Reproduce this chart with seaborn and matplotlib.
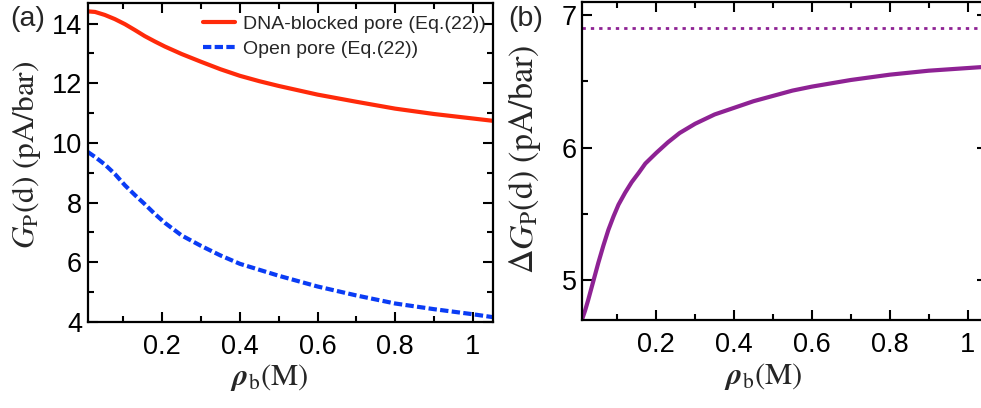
import numpy as np
import pandas as pd
import matplotlib
matplotlib.use("Agg")
import matplotlib.pyplot as plt
import seaborn as sns
from matplotlib.ticker import MultipleLocator

# ---- data ----
rho_a = [0.008, 0.027, 0.052, 0.078, 0.104, 0.13, 0.155, 0.181, 0.207, 0.25,
         0.3, 0.35, 0.4, 0.45, 0.5, 0.6, 0.7, 0.8, 0.9, 1.0, 1.053]
g_blocked = [14.41, 14.39, 14.29, 14.15, 13.98, 13.78, 13.58, 13.40, 13.23, 12.98,
             12.72, 12.47, 12.25, 12.07, 11.91, 11.62, 11.38, 11.15, 10.97, 10.82, 10.74]
g_open = [9.70, 9.53, 9.28, 8.96, 8.58, 8.25, 7.95, 7.62, 7.32, 6.90,
          6.55, 6.23, 5.95, 5.75, 5.55, 5.19, 4.89, 4.62, 4.43, 4.26, 4.16]

rho_b = [0.010, 0.017, 0.025, 0.038, 0.051, 0.064, 0.077, 0.090, 0.103, 0.12,
         0.137, 0.155, 0.172, 0.2, 0.23, 0.26, 0.3, 0.35, 0.4, 0.45, 0.5, 0.55,
         0.6, 0.7, 0.8, 0.9, 1.0, 1.05]
delta_g = [4.71, 4.77, 4.85, 4.99, 5.13, 5.26, 5.38, 5.48, 5.57, 5.66,
           5.74, 5.81, 5.88, 5.96, 6.04, 6.11, 6.18, 6.25, 6.30, 6.35, 6.39, 6.43,
           6.46, 6.51, 6.55, 6.58, 6.60, 6.61]
delta_g_limit = 6.905

labels = ["DNA-blocked pore (Eq.(22))", "Open pore (Eq.(22))"]
xticks = [0.2, 0.4, 0.6, 0.8, 1.0]
xticklabels = ["0.2", "0.4", "0.6", "0.8", "1"]

sns.set_theme(style="ticks")
plt.rcParams["font.family"] = ["Liberation Sans", "DejaVu Sans"]
plt.rcParams["mathtext.fontset"] = "stix"
plt.rcParams["axes.linewidth"] = 1.6

RED = "#FF2A0A"
BLUE = "#0A3CF5"
PURPLE = "#8E2294"

fig = plt.figure(figsize=(9.81, 4.08), dpi=100)
ax1 = fig.add_axes([0.0894, 0.2108, 0.4135, 0.7826])
ax2 = fig.add_axes([0.5936, 0.2157, 0.4125, 0.7800])

df = pd.DataFrame({
    "rho": rho_a * 2,
    "G": g_blocked + g_open,
    "kind": [labels[0]] * len(rho_a) + [labels[1]] * len(rho_a),
})
sns.lineplot(data=df, x="rho", y="G", hue="kind", style="kind",
             palette={labels[0]: RED, labels[1]: BLUE},
             dashes={labels[0]: "", labels[1]: (2.0, 0.8)},
             linewidth=3.0, ax=ax1, sort=False)

sns.lineplot(x=rho_b, y=delta_g, color=PURPLE, linewidth=3.0, ax=ax2, sort=False)
ax2.axhline(delta_g_limit, color=PURPLE, linewidth=2.0, linestyle=(0, (1.2, 1.8)))

for ax in (ax1, ax2):
    ax.set_xticks(xticks)
    ax.set_xticklabels(xticklabels)
    ax.xaxis.set_minor_locator(MultipleLocator(0.1))
    ax.tick_params(which="both", direction="in", top=True, right=True,
                   labelsize=19.5, width=1.5, colors="black")
    ax.tick_params(which="major", length=7)
    ax.tick_params(which="minor", length=4.5)
    ax.tick_params(axis="x", which="major", pad=9)
    ax.tick_params(axis="y", which="major", pad=4)
    for s in ax.spines.values():
        s.set_color("black")
        s.set_linewidth(1.6)
    ax.set_xlabel(r"$\boldsymbol{\rho}_{\rm b}(\rm M)$", fontsize=22)

ax1.set_xlim(0.008, 1.053)
ax1.set_ylim(4, 14.7)
ax1.yaxis.set_major_locator(MultipleLocator(2))
ax1.yaxis.set_minor_locator(MultipleLocator(1))
ax1.set_ylabel(r"$G_{\rm P}(\rm d)\ (\rm pA/bar)$", fontsize=22.5)
ax1.xaxis.set_label_coords(0.447, -0.125)
ax1.yaxis.set_label_coords(-0.110, 0.525)

ax2.set_xlim(0.01, 1.05)
ax2.set_ylim(4.70, 7.10)
ax2.yaxis.set_major_locator(MultipleLocator(1))
ax2.yaxis.set_minor_locator(MultipleLocator(0.5))
ax2.set_ylabel(r"$\Delta G_{\rm P}(\rm d)\ (\rm pA/bar)$", fontsize=24.5)
ax2.xaxis.set_label_coords(0.4465, -0.13)
ax2.yaxis.set_label_coords(-0.097, 0.505)

leg = ax1.legend(loc="upper right", frameon=False, fontsize=14,
                 handlelength=1.65, handletextpad=0.4, labelspacing=0.4,
                 borderpad=0.3, borderaxespad=0.1, bbox_to_anchor=(1.0, 0.985))
leg.set_title(None)

fig.text(0.010, 0.985, "(a)", fontsize=20.5, va="top", ha="left")
fig.text(0.518, 0.985, "(b)", fontsize=20.5, va="top", ha="left")

fig.savefig("out.png", dpi=100)
